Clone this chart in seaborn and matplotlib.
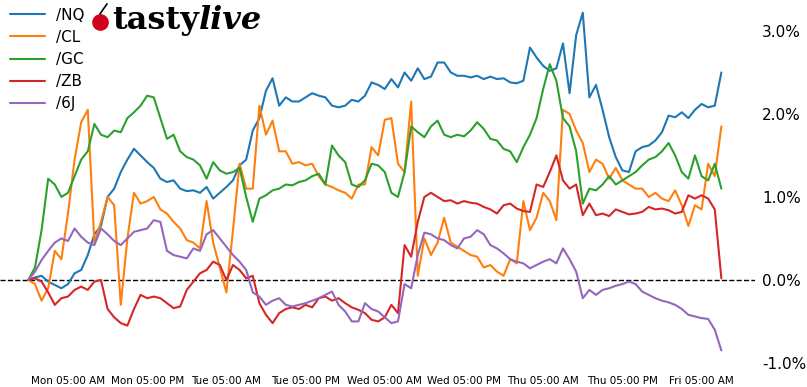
import matplotlib
matplotlib.use('Agg')
import matplotlib.pyplot as plt
import matplotlib.dates as mdates
import numpy as np
import pandas as pd
import seaborn as sns

# hourly samples, Sun 23:00 -> Fri 08:00, % change since open
start = pd.Timestamp('2024-01-07 23:00')
symbols = ['/NQ', '/CL', '/GC', '/ZB', '/6J']
colors = ['#1f77b4', '#ff7f0e', '#2ca02c', '#d62728', '#9467bd']

nq = [0.0, 0.03, 0.05, -0.02, -0.06, -0.1, -0.05, 0.08, 0.12, 0.3, 0.55, 0.65, 1.0, 1.1, 1.3, 1.45,
      1.58, 1.5, 1.42, 1.35, 1.22, 1.18, 1.2, 1.1, 1.07, 1.08, 1.05, 1.12, 0.98, 1.05, 1.12, 1.2,
      1.38, 1.45, 1.8, 1.95, 2.28, 2.43, 2.1, 2.2, 2.15, 2.15, 2.2, 2.25, 2.22, 2.2, 2.1, 2.08,
      2.1, 2.17, 2.15, 2.22, 2.38, 2.35, 2.3, 2.42, 2.32, 2.5, 2.4, 2.55, 2.42, 2.45, 2.62, 2.62,
      2.5, 2.46, 2.46, 2.44, 2.46, 2.42, 2.45, 2.42, 2.43, 2.38, 2.37, 2.4, 2.8, 2.68, 2.58, 2.52,
      2.55, 2.85, 2.25, 2.95, 3.22, 2.2, 2.35, 2.05, 1.72, 1.48, 1.32, 1.3, 1.55, 1.6, 1.62, 1.68,
      1.78, 1.98, 1.96, 2.02, 1.95, 2.05, 2.12, 2.08, 2.1, 2.5]
cl = [0.0, -0.05, -0.25, -0.1, 0.35, 0.25, 0.8, 1.45, 1.9, 2.05, 0.45, 0.7, 1.0, 0.9, -0.3, 0.5,
      1.05, 0.92, 0.95, 1.0, 0.85, 0.8, 0.7, 0.62, 0.48, 0.45, 0.38, 0.95, 0.45, 0.15, -0.15, 0.6,
      1.4, 1.1, 1.1, 2.1, 1.75, 1.92, 1.55, 1.55, 1.4, 1.42, 1.38, 1.4, 1.25, 1.15, 1.12, 1.08,
      1.05, 0.98, 1.15, 1.15, 1.6, 1.5, 1.93, 1.95, 1.4, 1.3, 2.15, 0.05, 0.5, 0.3, 0.45, 0.75,
      0.45, 0.4, 0.35, 0.3, 0.28, 0.15, 0.18, 0.1, 0.05, 0.25, 0.2, 0.95, 0.6, 0.75, 1.05, 0.95,
      0.72, 2.05, 2.0, 1.8, 1.65, 1.3, 1.45, 1.4, 1.22, 1.35, 1.2, 1.15, 1.1, 1.1, 1.0, 1.05,
      0.98, 0.95, 1.08, 0.9, 0.65, 0.9, 0.85, 1.4, 1.25, 1.85]
gc = [0.0, 0.15, 0.6, 1.22, 1.15, 1.0, 1.05, 1.25, 1.45, 1.55, 1.88, 1.75, 1.72, 1.8, 1.78, 1.95,
      2.02, 2.1, 2.22, 2.2, 1.95, 1.7, 1.75, 1.55, 1.48, 1.45, 1.38, 1.22, 1.42, 1.32, 1.28, 1.3,
      1.35, 1.0, 0.7, 0.98, 1.02, 1.08, 1.1, 1.15, 1.14, 1.18, 1.2, 1.25, 1.28, 1.15, 1.62, 1.5,
      1.42, 1.15, 1.12, 1.2, 1.4, 1.38, 1.3, 1.05, 1.0, 1.3, 1.85, 1.78, 1.72, 1.85, 1.92, 1.75,
      1.72, 1.75, 1.73, 1.8, 1.9, 1.82, 1.7, 1.68, 1.58, 1.55, 1.42, 1.6, 1.75, 1.95, 2.3, 2.6,
      2.4, 1.95, 1.85, 1.55, 0.92, 1.1, 1.08, 1.15, 1.25, 1.15, 1.2, 1.25, 1.3, 1.38, 1.45, 1.48,
      1.55, 1.65, 1.5, 1.3, 1.22, 1.5, 1.25, 1.2, 1.4, 1.1]
zb = [0.0, 0.02, -0.02, -0.15, -0.3, -0.22, -0.2, -0.12, -0.08, -0.12, -0.02, 0.0, -0.35, -0.45, -0.52, -0.55,
      -0.35, -0.18, -0.22, -0.2, -0.22, -0.28, -0.34, -0.32, -0.12, -0.02, 0.08, 0.12, 0.22, 0.18, 0.0, 0.18,
      0.12, 0.02, 0.05, -0.28, -0.42, -0.52, -0.4, -0.35, -0.33, -0.35, -0.3, -0.33, -0.22, -0.2, -0.25, -0.22,
      -0.28, -0.33, -0.36, -0.4, -0.48, -0.5, -0.45, -0.3, -0.4, 0.42, 0.28, 0.7, 1.0, 1.05, 1.0, 0.95,
      0.96, 0.92, 0.95, 0.93, 0.92, 0.88, 0.85, 0.8, 0.9, 0.92, 0.86, 0.83, 0.82, 1.15, 1.12, 1.3,
      1.5, 1.2, 1.1, 1.15, 0.78, 0.92, 0.78, 0.8, 0.77, 0.85, 0.82, 0.79, 0.8, 0.82, 0.88, 0.85,
      0.86, 0.84, 0.8, 0.82, 1.02, 0.98, 1.02, 0.98, 0.85, 0.02]
jy = [0.0, 0.1, 0.24, 0.35, 0.45, 0.5, 0.47, 0.62, 0.52, 0.45, 0.42, 0.62, 0.55, 0.47, 0.42, 0.5,
      0.58, 0.6, 0.62, 0.72, 0.7, 0.35, 0.3, 0.28, 0.26, 0.38, 0.35, 0.55, 0.6, 0.5, 0.4, 0.3,
      0.22, 0.12, -0.15, -0.2, -0.3, -0.25, -0.22, -0.3, -0.32, -0.3, -0.28, -0.25, -0.22, -0.18, -0.14, -0.3,
      -0.38, -0.5, -0.5, -0.28, -0.35, -0.38, -0.45, -0.52, -0.5, -0.05, -0.1, 0.3, 0.57, 0.55, 0.5, 0.48,
      0.42, 0.38, 0.5, 0.52, 0.6, 0.55, 0.42, 0.38, 0.32, 0.25, 0.22, 0.2, 0.14, 0.18, 0.22, 0.25,
      0.2, 0.38, 0.25, 0.1, -0.22, -0.12, -0.18, -0.12, -0.1, -0.07, -0.05, -0.02, -0.05, -0.14, -0.18, -0.22,
      -0.25, -0.27, -0.3, -0.35, -0.42, -0.44, -0.46, -0.47, -0.6, -0.85]

times = pd.date_range(start, periods=len(nq), freq='h')
df = pd.concat([pd.DataFrame({'time': times, 'pct': vals, 'symbol': sym})
                for sym, vals in zip(symbols, [nq, cl, gc, zb, jy])], ignore_index=True)

sns.set_style('white')
plt.rcParams['font.family'] = ['DejaVu Sans']
plt.rcParams['text.color'] = 'black'

fig = plt.figure(figsize=(8.07, 3.87), dpi=100)
ax = fig.add_axes([0.0, 0.039, 0.9356, 0.961])

sns.lineplot(data=df, x='time', y='pct', hue='symbol', hue_order=symbols,
             palette=colors, linewidth=1.5, ax=ax)
ax.axhline(0, color='black', linestyle='--', linewidth=1.0, zorder=0)

ax.set_ylim(-1.108, 3.373)
ax.set_xlim(start - pd.Timedelta(hours=4.3), times[-1] + pd.Timedelta(hours=5.1))
ax.yaxis.tick_right()
ax.set_yticks([-1, 0, 1, 2, 3])
ax.set_yticklabels([f'{v:.1f}%' for v in [-1, 0, 1, 2, 3]])
ax.xaxis.set_major_locator(mdates.HourLocator(byhour=[5, 17]))
ax.xaxis.set_major_formatter(mdates.DateFormatter('%a %I:%M %p'))
ax.tick_params(axis='y', labelsize=11, length=0, pad=5, labelcolor='black')
ax.tick_params(axis='x', labelsize=7.5, length=0, pad=3, labelcolor='black')
ax.set_xlabel('')
ax.set_ylabel('')
for s in ax.spines.values():
    s.set_visible(False)

leg = ax.legend(loc='upper left', bbox_to_anchor=(0.003, 1.0), frameon=False, fontsize=11,
                handlelength=2.3, handletextpad=0.7, labelspacing=0.47, borderaxespad=0.1)
for line in leg.get_lines():
    line.set_linewidth(1.5)

# logo: cherry + wordmark
fig.add_artist(plt.Line2D([0.1239], [0.943], transform=fig.transFigure, marker='o',
                          markersize=12, color='#d0021b', markeredgewidth=0))
fig.add_artist(plt.Line2D([0.1239, 0.1326], [0.964, 0.990], transform=fig.transFigure,
                          color='black', linewidth=1.2))
t1 = fig.text(0.139, 0.946, 'tasty', fontsize=23, fontweight='bold', family='DejaVu Serif',
              va='center', ha='left', color='black')
fig.canvas.draw()
bb = t1.get_window_extent().transformed(fig.transFigure.inverted())
fig.text(bb.x1, 0.946, 'live', fontsize=23, fontweight='bold', style='italic',
         family='DejaVu Serif', va='center', ha='left', color='black')

fig.savefig('out.png', dpi=100)
